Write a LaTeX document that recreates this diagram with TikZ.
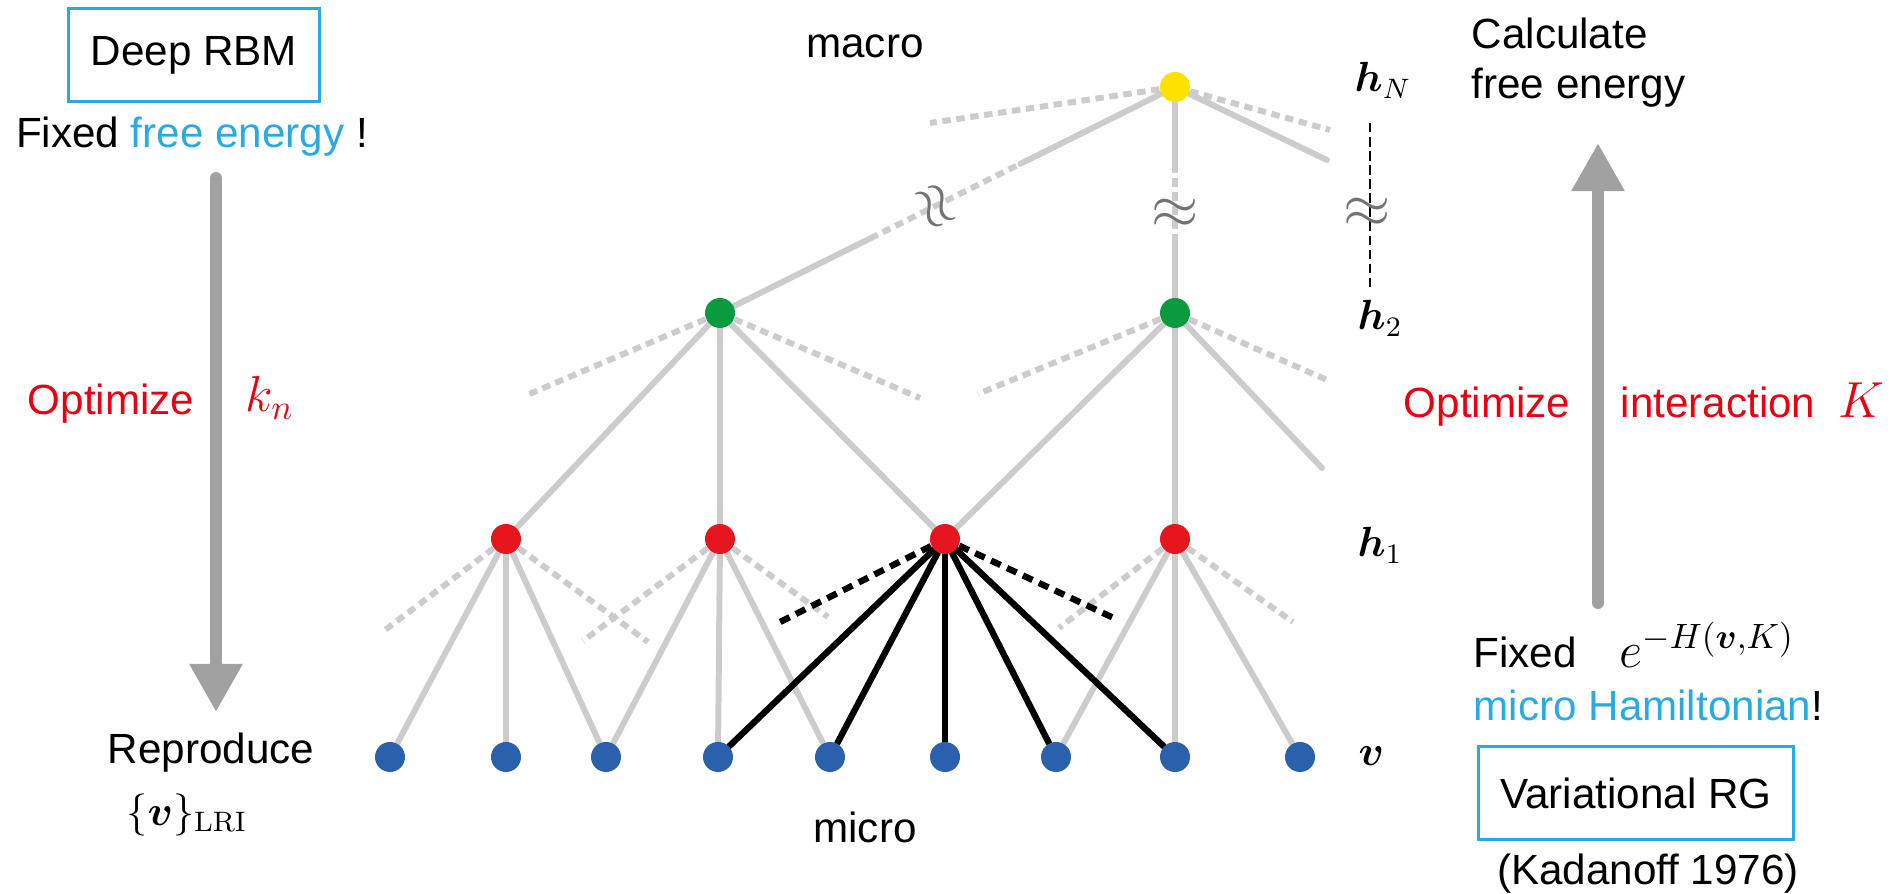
\documentclass[tikz,border=0pt]{standalone}
\usepackage{amsmath}
\usepackage[no-math]{fontspec}
\setmainfont{Liberation Sans}
\usepackage{tikz}
\usetikzlibrary{arrows.meta, positioning, calc, backgrounds}
\definecolor{rbmblue}{RGB}{41,171,226}
\definecolor{optred}{RGB}{230,0,18}
\definecolor{edgegray}{RGB}{204,204,204}
\definecolor{arrowgray}{RGB}{160,161,160}
\definecolor{approxgray}{RGB}{115,115,115}
\definecolor{visblue}{RGB}{42,96,172}
\definecolor{hidred}{RGB}{230,22,30}
\definecolor{hidgreen}{RGB}{10,155,65}
\definecolor{topyellow}{RGB}{255,225,0}
\tikzset{%
	unit/.style={
		circle,
		minimum size=3mm,
		inner sep=0pt
	},
	vis/.style={unit, fill=visblue},
	hid/.style={unit, fill=hidred},
	mid/.style={unit, fill=hidgreen},
	peak/.style={unit, fill=topyellow},
	link/.style={draw=edgegray, line width=1.7pt, line cap=round},
	stub/.style={draw=edgegray, line width=1.7pt, dash pattern=on 2.4pt off 1.6pt},
	focus/.style={draw=black, line width=1.8pt, line cap=round},
	focusstub/.style={draw=black, line width=1.8pt, dash pattern=on 3pt off 2pt},
	bigarrow/.style={draw=arrowgray, line width=3.4pt, line cap=round, -{Triangle[length=4.8mm, width=5mm]}},
	boxed/.style={draw=rbmblue, line width=0.9pt, inner xsep=2.2mm, minimum height=9.3mm},
	mathbig/.style={font=\fontsize{14.4}{16}\selectfont},
	approx/.style={text=approxgray, font=\fontsize{17}{18}\selectfont, inner sep=0pt},
}

\begin{document}
\begin{tikzpicture}[
				x=0.01cm, y=-0.01cm,
				every node/.append style={font=\fontsize{12}{14.2}\selectfont}
				]
				\useasboundingbox (0,0) rectangle (1899,894);
				
				% Units of the network
				\node[peak] (top) at (1175,87) {};
				\node[mid] (g1) at (720,313) {};
				\node[mid] (g2) at (1175,313) {};
				\foreach \n/\x in {1/506,2/720,3/945,4/1175}
					\node[hid] (r\n) at (\x,539) {};
				\foreach \n/\x in {1/390,2/506,3/606,4/718,5/830,6/945,7/1056,8/1175,9/1300}
					\node[vis] (v\n) at (\x,757) {};
				
				% Loose ends
				\coordinate (r1l) at (385,630);  \coordinate (r1r) at (648,642);
				\coordinate (r2l) at (583,641);  \coordinate (r2r) at (828,617);
				\coordinate (r3l) at (780,622);  \coordinate (r3r) at (1118,620);
				\coordinate (r4l) at (1059,628); \coordinate (r4r) at (1293,622);
				\coordinate (g1l) at (527,395);  \coordinate (g1r) at (920,398);
				\coordinate (g2l) at (978,394);  \coordinate (g2r) at (1327,380);
				\coordinate (g2s) at (1322,468);
				\coordinate (tl) at (930,123);   \coordinate (tr) at (1330,130);
				\coordinate (ts) at (1327,160);
				\coordinate (a1) at ($(g1)!0.33!(top)$); \coordinate (a2) at ($(g1)!0.66!(top)$);
				\coordinate (b1) at ($(g2)!0.31!(top)$); \coordinate (b2) at ($(g2)!0.66!(top)$);
				
				\begin{scope}[on background layer]
					\foreach \a/\b in {r1/v1,r1/v2,r1/v3,r2/v3,r2/v4,r2/v5,r4/v7,r4/v8,r4/v9,
						g1/r1,g1/r2,g1/r3,g2/r3,g2/r4,g2/g2s,top/ts,g1/a1,a2/top,g2/b1,b2/top}
						\draw[link] (\a) -- (\b);
					\foreach \a/\b in {r1/r1l,r1/r1r,r2/r2l,r2/r2r,r4/r4l,r4/r4r,
						g1/g1l,g1/g1r,g2/g2l,g2/g2r,top/tl,top/tr,a1/a2,b1/b2}
						\draw[stub] (\a) -- (\b);
					% receptive field of one hidden unit
					\foreach \b in {v4,v5,v6,v7,v8}
						\draw[focus] (r3) -- (\b);
					\draw[focusstub] (r3) -- (r3l);
					\draw[focusstub] (r3) -- (r3r);
				\end{scope}
				
				\node[approx, rotate=-63.6] (ap1) at ($(g1)!0.47!(top)$) {$\approx$};
				\node[approx] (ap2) at ($(g2)!0.44!(top)$) {$\approx$};
				
				% Layer labels
				\node[anchor=base west, inner sep=0pt] (hN) at (1354,92) {$\boldsymbol{h}_N$};
				\node[anchor=base west, inner sep=0pt] (h2) at (1357,330) {$\boldsymbol{h}_2$};
				\node[anchor=base west, inner sep=0pt] (h1) at (1357,557) {$\boldsymbol{h}_1$};
				\node[anchor=base west, inner sep=0pt] (vl) at (1358,765) {$\boldsymbol{v}$};
				\coordinate (dtop) at (1370,123);
				\coordinate (dbot) at (1370,288);
				\draw[line width=0.8pt, dash pattern=on 2.7pt off 1.3pt] (dtop) -- (dbot);
				\node[approx] (ap3) at (1367,213) {$\approx$};
				\node (macro) at (865,46) {macro};
				\node (micro) at (865,827) {micro};
				
				% Deep RBM side
				\node[boxed] (drbm) at (194,55) {Deep RBM};
				\node[anchor=base] (fixL) at (192,148) {Fixed \textcolor{rbmblue}{free energy} !};
				\coordinate (lA) at (216,178);
				\coordinate (lB) at (216,712);
				\draw[bigarrow] (lA) -- (lB);
				\node[anchor=base, text=optred] (optL) at (111,415) {Optimize};
				\node[anchor=base, text=optred, mathbig] (kn) at (270,412) {$k_n$};
				\node[anchor=base] (repro) at (211,763) {Reproduce};
				\node (lri) at (187,815) {$\{\boldsymbol{v}\}_{\mathrm{LRI}}$};
				
				% Variational RG side
				\node[anchor=north west, align=left, inner sep=0pt] (calcF) at (1471,17) {Calculate\\free energy};
				\coordinate (rA) at (1598,603);
				\coordinate (rB) at (1598,143);
				\draw[bigarrow] (rA) -- (rB);
				\node[anchor=base, text=optred] (optR) at (1487,417) {Optimize};
				\node[anchor=base, text=optred] (inter) at (1718,417) {interaction};
				\node[anchor=base, text=optred, mathbig] (Kint) at (1861,417) {$K$};
				\node[anchor=base] (fixR) at (1525,667) {Fixed};
				\node[anchor=base, mathbig] (boltz) at (1707,667) {$e^{-H(\boldsymbol{v},K)}$};
				\node[anchor=base west, inner sep=0pt] (hamil) at (1473,720) {\textcolor{rbmblue}{micro Hamiltonian}!};
				\node[boxed] (vrg) at (1636,793) {Variational RG};
				\node[anchor=base] (kada) at (1648,884) {(Kadanoff 1976)};
				
			\end{tikzpicture}
\end{document}
